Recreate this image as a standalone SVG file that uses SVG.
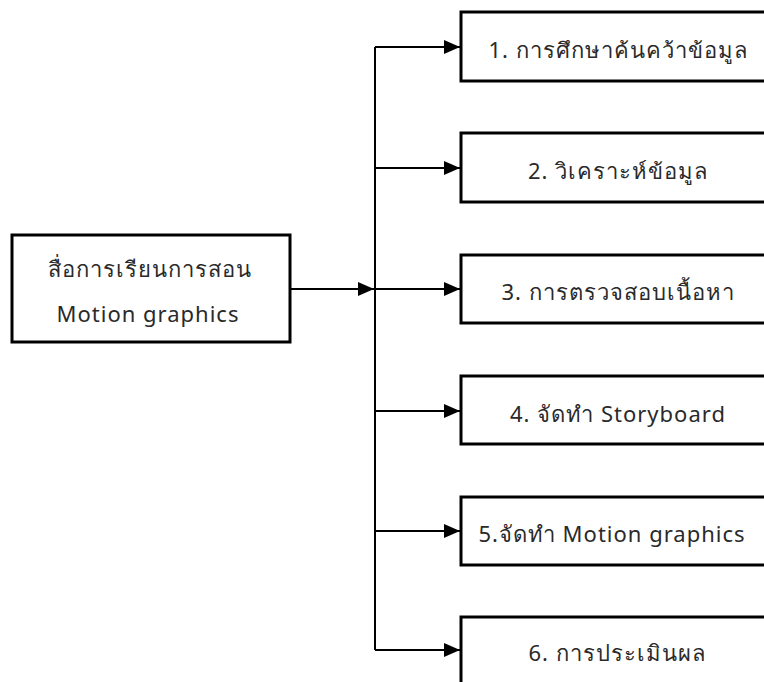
<svg xmlns="http://www.w3.org/2000/svg" width="764" height="682" viewBox="0 0 764 682">
<style>
.box{fill:#fff;stroke:#000;stroke-width:3}
.ln{fill:none;stroke:#000;stroke-width:2}
.t{font-family:"Noto Sans","DejaVu Sans",sans-serif;font-size:22px;letter-spacing:1px;fill:#2a2a2a;text-anchor:middle}
</style>
<defs>
<marker id="ah" viewBox="0 0 16 14" refX="16" refY="7" markerWidth="16" markerHeight="14" markerUnits="userSpaceOnUse" orient="auto">
<path d="M0,0 L16,7 L0,14 Z" fill="#000"/>
</marker>
</defs>
<rect width="764" height="682" fill="#fff"/>
<g id="connectors">
<line class="ln" x1="375" y1="47" x2="375" y2="650"/>
<line class="ln" x1="290" y1="289" x2="374" y2="289" marker-end="url(#ah)"/>
<line class="ln" x1="375" y1="47" x2="460" y2="47" marker-end="url(#ah)"/>
<line class="ln" x1="375" y1="168" x2="460" y2="168" marker-end="url(#ah)"/>
<line class="ln" x1="375" y1="289" x2="460" y2="289" marker-end="url(#ah)"/>
<line class="ln" x1="375" y1="411" x2="460" y2="411" marker-end="url(#ah)"/>
<line class="ln" x1="375" y1="531" x2="460" y2="531" marker-end="url(#ah)"/>
<line class="ln" x1="375" y1="650" x2="460" y2="650" marker-end="url(#ah)"/>
</g>
<g id="source">
<rect class="box" x="12" y="235" width="278" height="107"/>
<text class="t" x="150" y="277">สื่อการเรียนการสอน</text>
<text class="t" x="148" y="322">Motion graphics</text>
</g>
<g id="step1">
<rect class="box" x="461" y="12" width="314" height="69"/>
<text class="t" x="618" y="58">1. การศึกษาค้นคว้าข้อมูล</text>
</g>
<g id="step2">
<rect class="box" x="461" y="133" width="314" height="69"/>
<text class="t" x="618" y="179">2. วิเคราะห์ข้อมูล</text>
</g>
<g id="step3">
<rect class="box" x="461" y="255" width="314" height="68"/>
<text class="t" x="618" y="300">3. การตรวจสอบเนื้อหา</text>
</g>
<g id="step4">
<rect class="box" x="461" y="376" width="314" height="68"/>
<text class="t" x="618" y="422">4. จัดทำ Storyboard</text>
</g>
<g id="step5">
<rect class="box" x="461" y="497" width="314" height="68"/>
<text class="t" x="612" y="542">5.จัดทำ Motion graphics</text>
</g>
<g id="step6">
<rect class="box" x="461" y="617" width="314" height="69"/>
<text class="t" x="617" y="661">6. การประเมินผล</text>
</g>
</svg>
